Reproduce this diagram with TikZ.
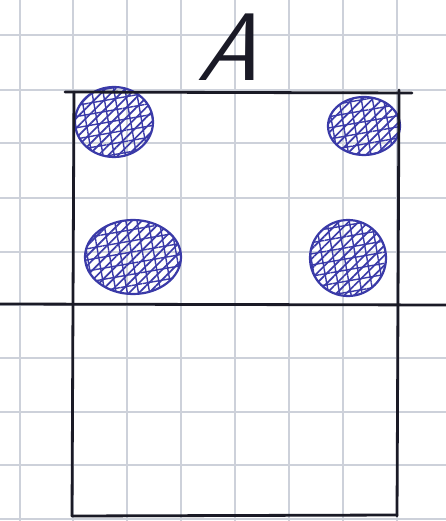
\documentclass[tikz,border=0pt]{standalone}
\usetikzlibrary{patterns.meta}
\definecolor{ink}{HTML}{1A1A26}
\definecolor{pen}{HTML}{3A3AA8}
\definecolor{gridc}{HTML}{CDD1DA}
\tikzset{
  gridline/.style={gridc, line width=1.1pt},
  inkline/.style={ink, line width=2.8pt, line cap=round},
  blob/.style={pen, line width=2.2pt, pattern={Lines[angle=45,distance=7pt,line width=1.7pt]}, pattern color=pen},
  cross/.style={pattern={Hatch[angle=10,distance=11pt,line width=1.4pt]}, pattern color=pen}
}
\begin{document}
\begin{tikzpicture}[x={(1pt,0)}, y={(0,-1pt)}]
\fill[white] (0,0) rectangle (446,521);
\useasboundingbox (0,0) rectangle (446,521);
% grid paper
\foreach \gx in {20,73,127,181,235,289,343,397}
  \draw[gridline] (\gx,0) -- (\gx,521);
\foreach \gy in {35,90,143,198,252,305,358,412,465,519}
  \draw[gridline] (0,\gy) -- (446,\gy);
% hatched circles
\foreach \cx/\cy/\rx/\ry in {114/122/39/35, 364/126/36/29, 133/257/48/37, 348/258/38/38}{
  \fill[cross] (\cx,\cy) ellipse [x radius=\rx, y radius=\ry];
  \draw[blob] (\cx,\cy) ellipse [x radius=\rx, y radius=\ry];
}
% rectangle and lines
\draw[inkline] (65,92) -- (412,93);
\draw[inkline] (74,92) -- (72,516);
\draw[inkline] (399,90) -- (397,516);
\draw[inkline] (72,516) -- (397,515);
\draw[inkline] (0,304) -- (446,305);
% label
\node[ink, inner sep=0pt, transform shape, xslant=0.35, font=\sffamily\fontsize{96}{96}\selectfont] (lblA) at (238,47) {A};
\end{tikzpicture}
\end{document}
